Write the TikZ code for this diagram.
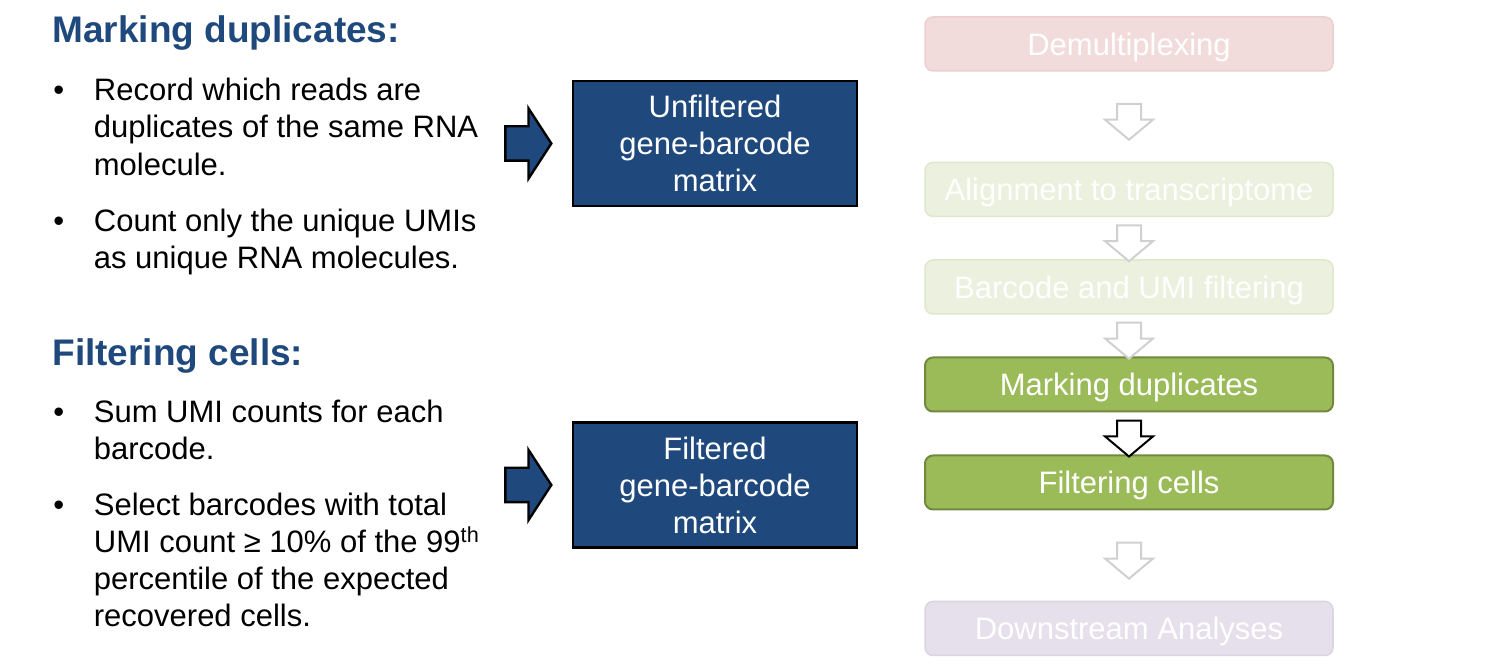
\documentclass[tikz,border=0pt]{standalone}
\usepackage{fontspec}
\setmainfont{Liberation Sans}
\usetikzlibrary{shapes.arrows,calc,positioning}
\definecolor{boxblue}{HTML}{1F497D}
\definecolor{stepgreen}{HTML}{9BBB59}
\definecolor{stepgreendark}{HTML}{71893F}
\definecolor{demuxfill}{HTML}{F2DCDB}
\definecolor{demuxline}{HTML}{EAD0CF}
\definecolor{fadegreen}{HTML}{EBF1DE}
\definecolor{fadegreenline}{HTML}{DFE7CC}
\definecolor{fadepurple}{HTML}{E5E0EC}
\definecolor{fadepurpleline}{HTML}{DAD4E3}
\definecolor{arrowgray}{HTML}{D0D0D0}
\newcommand{\bodyfont}{\fontsize{15.5}{18.5}\selectfont}
\begin{document}
\begin{tikzpicture}[x=0.5pt, y=-0.5pt,
  headtext/.style={anchor=base west, inner sep=0pt, text=boxblue, font=\fontsize{18.5}{22}\selectfont\bfseries},
  bodytext/.style={anchor=base west, inner sep=0pt, font=\bodyfont},
  matbox/.style={draw=black, line width=1.25pt, fill=boxblue, text=white, align=center, minimum width=142pt, minimum height=62.5pt, font=\bodyfont},
  stepbox/.style={rounded corners=4pt, line width=0.75pt, minimum width=204pt, minimum height=27pt, text=white, font=\bodyfont, text height=11.2pt, text depth=0pt},
  bluearrow/.style={single arrow, draw=black, line width=1.2pt, fill=boxblue, inner xsep=0pt, inner ysep=8pt, minimum height=23pt, single arrow head extend=9pt, single arrow tip angle=114},
  downarrow/.style={single arrow, rotate=-90, draw=arrowgray, line width=1pt, fill=white, inner xsep=0pt, inner ysep=5.5pt, minimum height=18pt, single arrow head extend=6pt, single arrow tip angle=100}]
\useasboundingbox (0,0) rectangle (1493,672);

% left column: marking duplicates
\node[headtext] (h1) at (52,43) {Marking duplicates:};
\node[bodytext] (b1) at (53,101) {\textbullet};
\node[bodytext] (t1) at (93.5,101) {Record which reads are};
\node[bodytext] (t2) at (93.5,138) {duplicates of the same RNA};
\node[bodytext] (t3) at (93.5,175.5) {molecule.};
\node[bodytext] (b2) at (53,232) {\textbullet};
\node[bodytext] (t4) at (93.5,232) {Count only the unique UMIs};
\node[bodytext] (t5) at (93.5,269) {as unique RNA molecules.};

% left column: filtering cells
\node[headtext] (h2) at (52,366) {Filtering cells:};
\node[bodytext] (b3) at (53,423) {\textbullet};
\node[bodytext] (t6) at (93.5,423) {Sum UMI counts for each};
\node[bodytext] (t7) at (93.5,460) {barcode.};
\node[bodytext] (b4) at (53,516) {\textbullet};
\node[bodytext] (t8) at (93.5,516) {Select barcodes with total};
\node[bodytext] (t9) at (93.5,553) {UMI count ≥ 10\% of the 99\textsuperscript{th}};
\node[bodytext] (t10) at (93.5,590) {percentile of the expected};
\node[bodytext] (t11) at (93.5,627) {recovered cells.};

% matrices
\node[matbox] (unf) at (715,143.5) {Unfiltered\\gene-barcode\\matrix};
\node[matbox] (filt) at (715,485) {Filtered\\gene-barcode\\matrix};
\node[bluearrow, left=9.5pt of unf] (arr1) {};
\node[bluearrow, left=9.5pt of filt] (arr2) {};

% pipeline
\node[stepbox, fill=demuxfill, draw=demuxline] (demux) at (1129,44) {Demultiplexing};
\node[stepbox, fill=fadegreen, draw=fadegreenline] (aln) at (1129,189.5) {Alignment to transcriptome};
\node[stepbox, fill=fadegreen, draw=fadegreenline] (bcumi) at (1129,287) {Barcode and UMI filtering};
\node[stepbox, fill=stepgreen, draw=stepgreendark, line width=1pt] (markdup) at (1129,384.5) {Marking duplicates};
\node[stepbox, fill=stepgreen, draw=stepgreendark, line width=1pt] (filtcell) at (1129,482.5) {Filtering cells};
\node[stepbox, fill=fadepurple, draw=fadepurpleline] (downstr) at (1129,628.5) {Downstream Analyses};

\node[downarrow] (d1) at ($(demux.south)!0.5!(aln.north)$) {};
\node[downarrow] (d2) at ($(aln.south)!0.5!(bcumi.north)$) {};
\node[downarrow] (d3) at ($(bcumi.south)!0.5!(markdup.north)$) {};
\node[downarrow, draw=black] (d4) at ($(markdup.south)!0.5!(filtcell.north)$) {};
\node[downarrow] (d5) at ($(filtcell.south)!0.5!(downstr.north)$) {};
\end{tikzpicture}
\end{document}
